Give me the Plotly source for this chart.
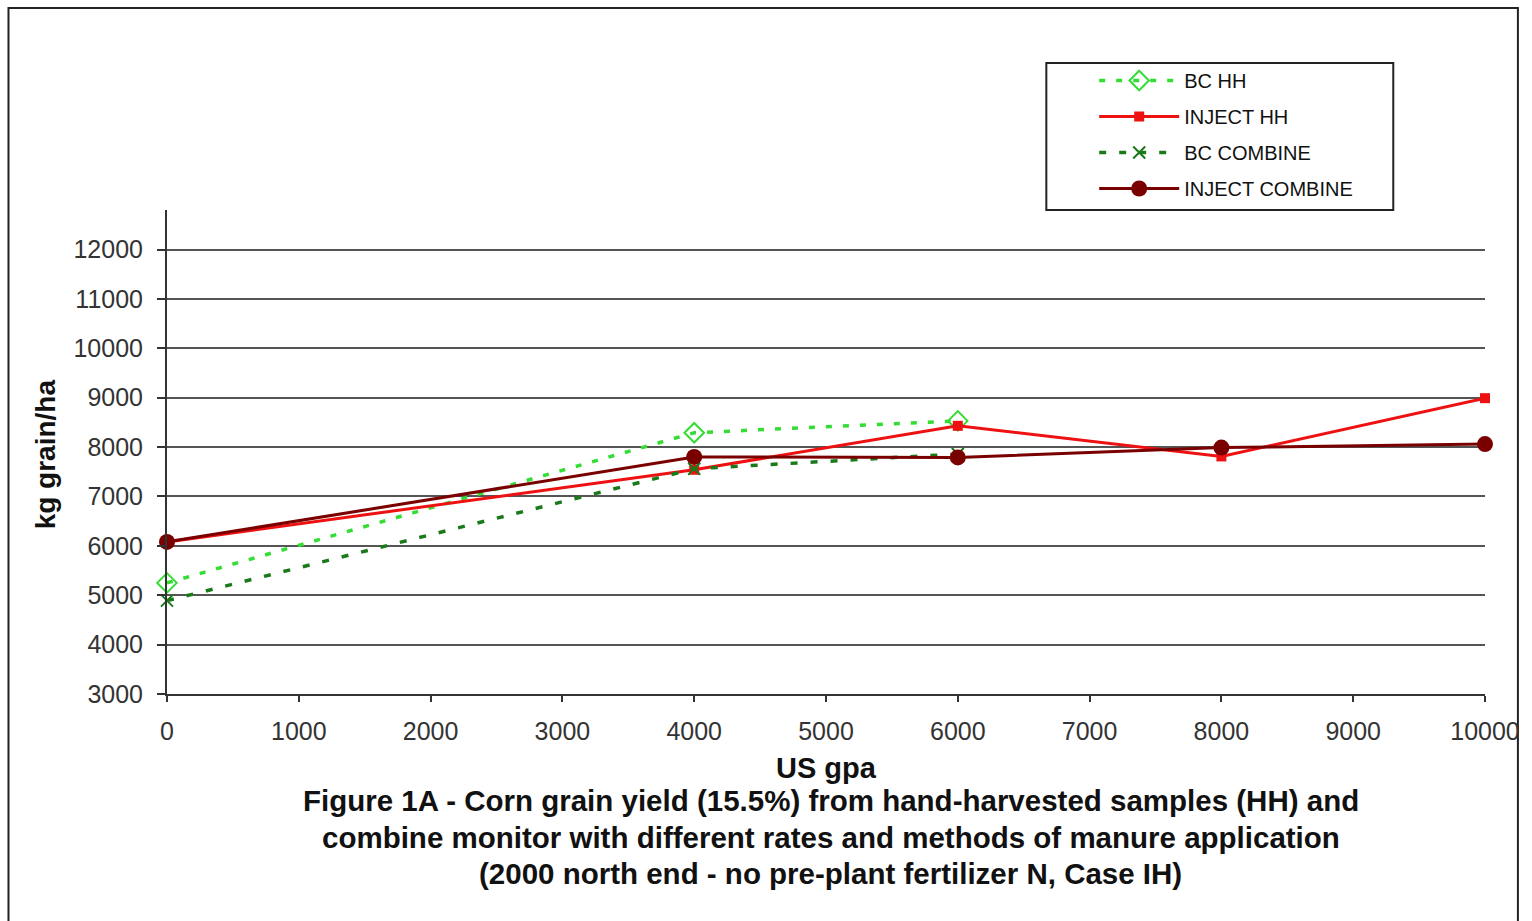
import plotly.graph_objects as go

# Data
gpa = [0, 4000, 6000, 8000, 10000]
bc_hh = [5250, 8290, 8530, None, None]
inject_hh = [6080, 7540, 8430, 7810, 8990]
bc_combine = [4890, 7560, 7860, None, None]
inject_combine = [6080, 7800, 7790, 7990, 8060]

series_names = ["BC HH", "INJECT HH", "BC COMBINE", "INJECT COMBINE"]
y_ticks = [3000, 4000, 5000, 6000, 7000, 8000, 9000, 10000, 11000, 12000]
x_ticks = [0, 1000, 2000, 3000, 4000, 5000, 6000, 7000, 8000, 9000, 10000]

caption_lines = [
    "Figure 1A - Corn grain yield (15.5%) from hand-harvested samples (HH) and",
    "combine monitor with different rates and methods of manure application",
    "(2000 north end - no pre-plant fertilizer N, Case IH)",
]

W, H = 1532, 921
L, R, T, B = 167, 43, 210, 227
PW, PH = W - L - R, H - T - B


def px(xp):
    return (xp - L) / PW


def py(yp):
    return (H - B - yp) / PH


FONT = "Liberation Sans, Arial, sans-serif"

fig = go.Figure()
fig.add_trace(go.Scatter(
    x=gpa, y=bc_hh, name=series_names[0], mode="lines+markers",
    line=dict(color="#33dd33", width=3.5, dash="6px,11px"),
    marker=dict(symbol="diamond-open", size=15, color="#33dd33", line=dict(width=2)),
    cliponaxis=False, connectgaps=False, legendgroup="a"))
fig.add_trace(go.Scatter(
    x=gpa, y=inject_hh, name=series_names[1], mode="lines+markers",
    line=dict(color="#ee1111", width=3),
    marker=dict(symbol="square", size=10, color="#ee1111"),
    cliponaxis=False, legendgroup="b"))
fig.add_trace(go.Scatter(
    x=gpa, y=bc_combine, name=series_names[2], mode="lines+markers",
    line=dict(color="#1a7a1a", width=3.5, dash="7px,13px"),
    marker=dict(symbol="x-thin", size=12, color="#1a7a1a", line=dict(width=2, color="#1a7a1a")),
    cliponaxis=False, legendgroup="c"))
fig.add_trace(go.Scatter(
    x=gpa, y=inject_combine, name=series_names[3], mode="lines+markers",
    line=dict(color="#7a0000", width=3),
    marker=dict(symbol="circle", size=16, color="#7a0000"),
    cliponaxis=False, legendgroup="d"))

annotations = [
    dict(text="<b>kg grain/ha</b>", textangle=-90, x=px(45), y=py(454), xref="paper", yref="paper",
         showarrow=False, font=dict(family=FONT, size=28, color="#111"), xanchor="center", yanchor="middle"),
    dict(text="<b>US gpa</b>", x=px(828), y=py(768), xref="paper", yref="paper",
         showarrow=False, font=dict(family=FONT, size=29, color="#111"), xanchor="center", yanchor="middle"),
]
for i, line in enumerate(caption_lines):
    annotations.append(dict(
        text="<b>" + line + "</b>", x=px(833), y=py(800 + 37 * i), xref="paper", yref="paper",
        showarrow=False, font=dict(family=FONT, size=29.5, color="#111"),
        xanchor="center", yanchor="middle"))

shapes = [
    # outer frame
    dict(type="rect", xref="paper", yref="paper", x0=px(8), x1=px(1522), y0=py(940), y1=py(8),
         line=dict(color="#222", width=2), fillcolor="rgba(0,0,0,0)", layer="below"),
    # legend frame
    dict(type="rect", xref="paper", yref="paper", x0=px(1049), x1=px(1397), y0=py(210), y1=py(63),
         line=dict(color="#222", width=2), fillcolor="rgba(0,0,0,0)"),
]

fig.update_layout(
    width=W, height=H,
    margin=dict(l=L, r=R, t=T, b=B, pad=0),
    paper_bgcolor="white", plot_bgcolor="white",
    font=dict(family=FONT, color="#222"),
    showlegend=True,
    legend=dict(x=px(1097), y=py(61), xanchor="left", yanchor="top",
                bgcolor="rgba(0,0,0,0)", borderwidth=0,
                font=dict(family=FONT, size=20, color="#111"),
                tracegroupgap=7, itemwidth=80),
    annotations=annotations,
    shapes=shapes,
    xaxis=dict(range=[0, 10000], tickvals=x_ticks, ticktext=[str(v) for v in x_ticks],
               showgrid=False, zeroline=False, showline=True, linecolor="#333", linewidth=2,
               ticks="outside", ticklen=6, tickwidth=2, tickcolor="#333", ticklabelstandoff=8,
               tickfont=dict(family=FONT, size=25, color="#333")),
    yaxis=dict(range=[3000, 12800], tickvals=y_ticks, ticktext=[str(v) for v in y_ticks],
               showgrid=True, gridcolor="#555", gridwidth=2, zeroline=False,
               showline=True, linecolor="#333", linewidth=2,
               ticks="outside", ticklen=8, tickwidth=2, tickcolor="#333", ticklabelstandoff=9,
               tickfont=dict(family=FONT, size=25, color="#333")),
)

fig.write_html("out.html")
